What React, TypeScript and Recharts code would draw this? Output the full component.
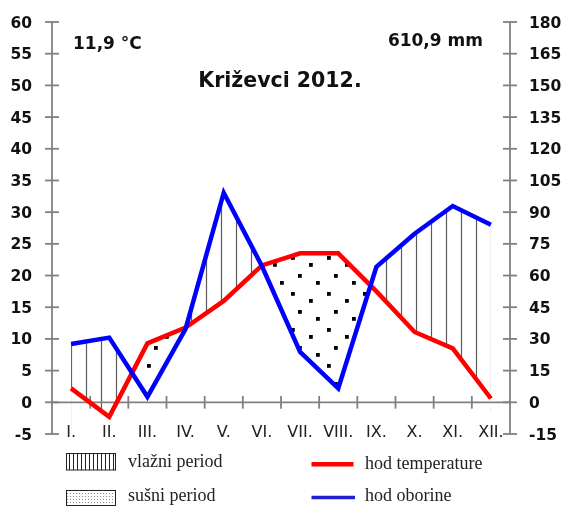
import React from 'react';
import { ComposedChart, Line, Area, XAxis, YAxis, ReferenceLine } from 'recharts';

const months = ['I.', 'II.', 'III.', 'IV.', 'V.', 'VI.', 'VII.', 'VIII.', 'IX.', 'X.', 'XI.', 'XII.'];
const temperature = [2.2, -2.3, 9.3, 11.8, 16.0, 21.6, 23.5, 23.5, 17.5, 11.1, 8.5, 0.6];
const precipitation = [27.6, 30.6, 2.6, 34.8, 99.2, 64.5, 23.9, 6.6, 64.1, 79.8, 92.9, 84.0];
const tempTicks = [-5, 0, 5, 10, 15, 20, 25, 30, 35, 40, 45, 50, 55, 60];
const precTicks = [-15, 0, 15, 30, 45, 60, 75, 90, 105, 120, 135, 150, 165, 180];

const data = months.map((label, i) => ({
  m: i + 1,
  label,
  temp: temperature[i],
  prec: precipitation[i],
}));
const monthPos = data.map((d) => d.m);
const boundaries = monthPos.slice(1).map((m) => m - 0.5);

const W = 562;
const H = 506;
const axisColor = '#808080';
const sans = 'DejaVu Sans, Verdana, sans-serif';
const serif = 'Liberation Serif, Times New Roman, serif';
const layerMargin = { top: 22, right: 52, bottom: 72, left: 52 };

// vlažni period: lines below the rain curve, whited out below the temperature curve
function WetLayer() {
  return (
    <ComposedChart width={W} height={H} data={data} margin={layerMargin}>
      <defs>
        <pattern id="wetLines" patternUnits="userSpaceOnUse" width="15" height="10">
          <line x1="11.5" y1="0" x2="11.5" y2="10" stroke="#5a5a5a" strokeWidth="1.2" />
        </pattern>
      </defs>
      <XAxis dataKey="m" type="number" domain={[0.5, 12.5]} hide />
      <YAxis yAxisId="t" domain={[-5, 60]} hide />
      <YAxis yAxisId="p" orientation="right" domain={[-15, 180]} hide />
      <Area yAxisId="p" type="linear" dataKey="prec" baseValue="dataMin" fill="url(#wetLines)"
        fillOpacity={1} stroke="none" isAnimationActive={false} />
      <Area yAxisId="t" type="linear" dataKey="temp" baseValue="dataMin" fill="#ffffff"
        fillOpacity={1} stroke="none" isAnimationActive={false} />
    </ComposedChart>
  );
}

// sušni period: dots below the temperature curve, whited out below the rain curve
function DryLayer() {
  return (
    <ComposedChart width={W} height={H} data={data} margin={layerMargin}>
      <defs>
        <pattern id="dryDots" patternUnits="userSpaceOnUse" width="36" height="36">
          <rect x="3" y="4" width="3.8" height="3.8" fill="#000" />
          <rect x="21" y="11" width="3.8" height="3.8" fill="#000" />
          <rect x="10" y="22" width="3.8" height="3.8" fill="#000" />
          <rect x="28" y="29" width="3.8" height="3.8" fill="#000" />
        </pattern>
      </defs>
      <XAxis dataKey="m" type="number" domain={[0.5, 12.5]} hide />
      <YAxis yAxisId="t" domain={[-5, 60]} hide />
      <YAxis yAxisId="p" orientation="right" domain={[-15, 180]} hide />
      <Area yAxisId="t" type="linear" dataKey="temp" baseValue="dataMin" fill="url(#dryDots)"
        fillOpacity={1} stroke="none" isAnimationActive={false} />
      <Area yAxisId="p" type="linear" dataKey="prec" baseValue="dataMin" fill="#ffffff"
        fillOpacity={1} stroke="none" isAnimationActive={false} />
    </ComposedChart>
  );
}

const leftTick = (props: any) => {
  const { x, y, payload } = props;
  return (
    <g>
      <line x1={x - 7} y1={y} x2={x + 7} y2={y} stroke={axisColor} strokeWidth={1.8} />
      <text x={x - 20} y={y} dy={5.5} textAnchor="end" fontFamily={sans} fontWeight="bold"
        fontSize={15.5} fill="#111">{payload.value}</text>
    </g>
  );
};

const rightTick = (props: any) => {
  const { x, y, payload } = props;
  return (
    <g>
      <line x1={x - 7} y1={y} x2={x + 7} y2={y} stroke={axisColor} strokeWidth={1.8} />
      <text x={x + 19} y={y} dy={5.5} textAnchor="start" fontFamily={sans} fontWeight="bold"
        fontSize={15.5} fill="#111">{payload.value}</text>
    </g>
  );
};

const monthTick = (props: any) => {
  const { x, y, payload } = props;
  return (
    <text x={x} y={y} dy={3} textAnchor="middle" fontFamily={sans} fontSize={16} fill="#222">
      {months[payload.value - 1]}
    </text>
  );
};

function MainChart() {
  return (
    <ComposedChart width={W} height={H} data={data} margin={{ top: 22, right: 0, bottom: 42, left: 0 }}>
      <XAxis dataKey="m" type="number" domain={[0.5, 12.5]} ticks={monthPos} interval={0}
        height={30} axisLine={false} tickLine={false} tickSize={0} tickMargin={0} tick={monthTick} />
      <YAxis yAxisId="t" width={52} domain={[-5, 60]} ticks={tempTicks} interval={0}
        axisLine={{ stroke: axisColor, strokeWidth: 1.8 }} tickLine={false} tickSize={0} tickMargin={0}
        tick={leftTick} />
      <YAxis yAxisId="p" orientation="right" width={52} domain={[-15, 180]} ticks={precTicks} interval={0}
        axisLine={{ stroke: axisColor, strokeWidth: 1.8 }} tickLine={false} tickSize={0} tickMargin={0}
        tick={rightTick} />
      <ReferenceLine yAxisId="t" y={0} stroke={axisColor} strokeWidth={1.8} />
      {boundaries.map((b) => (
        <ReferenceLine key={b} yAxisId="t" segment={[{ x: b, y: -1 }, { x: b, y: 1 }]}
          stroke={axisColor} strokeWidth={1.8} />
      ))}
      <Line yAxisId="t" type="linear" dataKey="temp" stroke="#ff0000" strokeWidth={4.5}
        dot={false} isAnimationActive={false} />
      <Line yAxisId="p" type="linear" dataKey="prec" stroke="#0000ff" strokeWidth={4.5}
        dot={false} isAnimationActive={false} />
    </ComposedChart>
  );
}

function Overlay() {
  return (
    <svg width={W} height={H} style={{ position: 'absolute', left: 0, top: 0, pointerEvents: 'none' }}>
      <defs>
        <pattern id="legLines" patternUnits="userSpaceOnUse" width="4" height="10">
          <line x1="1.5" y1="0" x2="1.5" y2="10" stroke="#222" strokeWidth="1" />
        </pattern>
        <pattern id="legDots" patternUnits="userSpaceOnUse" width="3" height="3">
          <rect x="1" y="1" width="1" height="1" fill="#888" />
        </pattern>
      </defs>
      <text x={73} y={49} fontFamily={sans} fontWeight="bold" fontSize={17} fill="#111">11,9 °C</text>
      <text x={483} y={46} textAnchor="end" fontFamily={sans} fontWeight="bold" fontSize={17} fill="#111">
        610,9 mm
      </text>
      <text x={280} y={86.5} textAnchor="middle" fontFamily={sans} fontWeight="bold" fontSize={20.5} fill="#111">
        Križevci 2012.
      </text>

      <rect x={66.5} y={453.5} width={49} height={16.5} fill="url(#legLines)" stroke="#222" strokeWidth={1} />
      <text x={128} y={466.5} fontFamily={serif} fontSize={18} fill="#222">vlažni period</text>
      <rect x={66.5} y={490.5} width={49} height={15} fill="url(#legDots)" stroke="#222" strokeWidth={1} />
      <text x={128} y={500.5} fontFamily={serif} fontSize={18} fill="#222">sušni period</text>

      <line x1={311.5} y1={464.3} x2={353.5} y2={464.3} stroke="#ff0000" strokeWidth={4.5} />
      <text x={365} y={469} fontFamily={serif} fontSize={18} fill="#222">hod temperature</text>
      <line x1={311.5} y1={497.5} x2={355} y2={497.5} stroke="#2020d0" strokeWidth={3.5} />
      <text x={365} y={501} fontFamily={serif} fontSize={18} fill="#222">hod oborine</text>
    </svg>
  );
}

export default function App() {
  return (
    <div style={{ position: 'absolute', left: 0, top: 0, width: W, height: H, background: '#fff', overflow: 'hidden' }}>
      <div style={{ position: 'absolute', left: 0, top: 0 }}>
        <WetLayer />
      </div>
      <div style={{ position: 'absolute', left: 0, top: 0, mixBlendMode: 'multiply' }}>
        <DryLayer />
      </div>
      <div style={{ position: 'absolute', left: 0, top: 0 }}>
        <MainChart />
      </div>
      <Overlay />
    </div>
  );
}
